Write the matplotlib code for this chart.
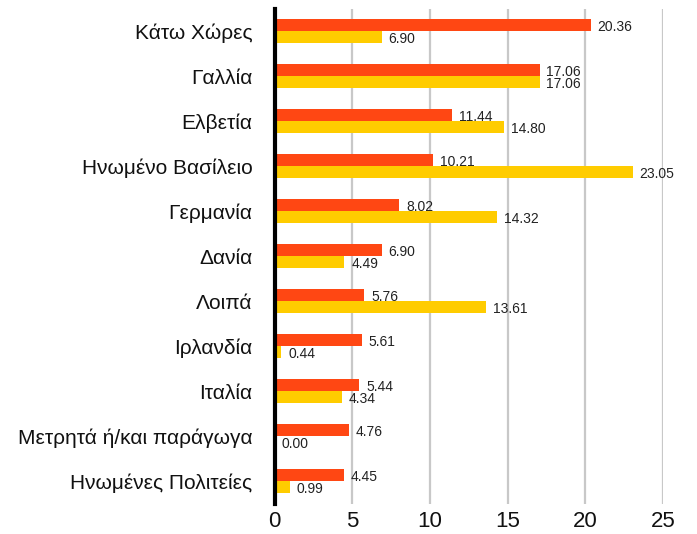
import matplotlib
matplotlib.use("Agg")
import matplotlib.pyplot as plt
import numpy as np

categories = ["Κάτω Χώρες", "Γαλλία", "Ελβετία", "Ηνωμένο Βασίλειο", "Γερμανία",
              "Δανία", "Λοιπά", "Ιρλανδία", "Ιταλία", "Μετρητά ή/και παράγωγα",
              "Ηνωμένες Πολιτείες"]
series_a = [20.36, 17.06, 11.44, 10.21, 8.02, 6.90, 5.76, 5.61, 5.44, 4.76, 4.45]
series_b = [6.90, 17.06, 14.80, 23.05, 14.32, 4.49, 13.61, 0.44, 4.34, 0.00, 0.99]
xticks = [0, 5, 10, 15, 20, 25]

orange = "#FF4713"
yellow = "#FFCC00"
font = ["Liberation Sans", "DejaVu Sans"]

fig = plt.figure(figsize=(6.97, 5.34), dpi=100)
ax = fig.add_axes([0.394, 0.057, 0.557, 0.927])

y = np.arange(len(categories))
h = 0.27
ax.barh(y - h / 2, series_a, height=h, color=orange, zorder=3)
ax.barh(y + h / 2, series_b, height=h, color=yellow, zorder=3)

for yi, a, b in zip(y, series_a, series_b):
    ax.annotate(f"{a:.2f}", (a, yi - h / 2), xytext=(5, -1.5), textcoords="offset points",
                va="center", ha="left", fontsize=10, family=font,
                color="#222222", annotation_clip=False)
    ax.annotate(f"{b:.2f}", (b, yi + h / 2), xytext=(5, -1.5), textcoords="offset points",
                va="center", ha="left", fontsize=10, family=font,
                color="#222222", annotation_clip=False)

ax.set_ylim(len(categories) - 0.5, -0.5)
ax.set_xlim(0, 25)
ax.set_yticks(y)
ax.set_yticklabels(categories, family=font, fontsize=15, color="#111111")
ax.set_xticks(xticks)
ax.set_xticklabels([str(t) for t in xticks], family=font, fontsize=16, color="#111111")
ax.tick_params(length=0, pad=5)
ax.tick_params(axis="y", pad=16)

ax.grid(axis="x", color="#c8c8c8", linewidth=1.6, zorder=0)
for s in ["top", "right", "bottom"]:
    ax.spines[s].set_visible(False)
ax.spines["left"].set_linewidth(3)
ax.spines["left"].set_color("black")
ax.spines["left"].set_zorder(4)

fig.savefig("out.png", dpi=100)
